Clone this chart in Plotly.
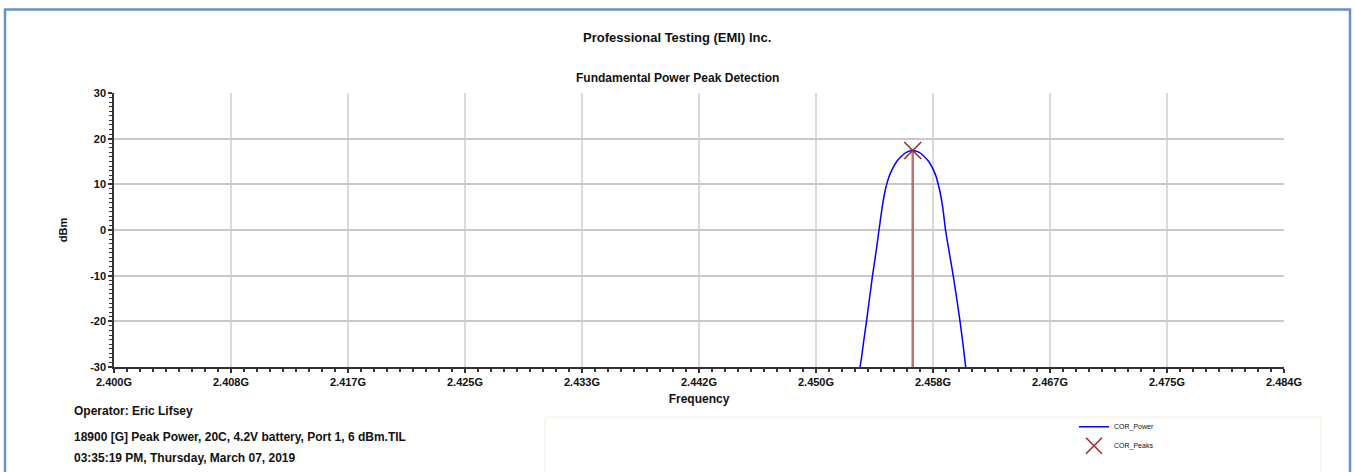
import plotly.graph_objects as go

# ---- data (GHz, dBm) ----
power_freq_ghz = [2.453559, 2.453667, 2.453796, 2.454026, 2.454241, 2.454457,
                  2.454701, 2.454924, 2.455153, 2.455369, 2.455476, 2.455620,
                  2.455907, 2.456194, 2.456481, 2.456876, 2.457343,
                  2.457810, 2.458205, 2.458492, 2.458779, 2.459045, 2.459174,
                  2.459281, 2.459497, 2.459698, 2.459971, 2.460251, 2.460502,
                  2.460740, 2.460954, 2.461069, 2.461148]
power_dbm = [-30.0, -28.0, -25.0, -20.0, -15.0, -10.0,
             -5.0, 0.0, 5.0, 8.7, 10.0, 11.5,
             13.5, 15.0, 16.0, 17.0, 17.4,
             17.0, 16.0, 15.0, 13.5, 11.5, 10.0,
             8.7, 5.0, 0.0, -5.0, -10.0, -15.0,
             -20.0, -25.0, -28.0, -30.0]

peak_freq_ghz = [2.457343]
peak_dbm = [17.4]

x_tick_labels = ["2.400G", "2.408G", "2.417G", "2.425G", "2.433G", "2.442G",
                 "2.450G", "2.458G", "2.467G", "2.475G", "2.484G"]
x_start, x_step = 2.400, 0.0084
x_tick_vals = [x_start + i * x_step for i in range(len(x_tick_labels))]
y_tick_vals = [-30, -20, -10, 0, 10, 20, 30]

title_text = "Professional Testing (EMI) Inc."
subtitle_text = "Fundamental Power Peak Detection"
footer_lines = ["Operator: Eric Lifsey",
                "18900 [G] Peak Power, 20C, 4.2V battery, Port 1, 6 dBm.TIL",
                "03:35:19 PM, Thursday, March 07, 2019"]

# ---- layout geometry (window pixels) ----
W, H = 1354, 472
L, R, T, B = 114, 1284, 93, 372
pw, ph = R - L, B - T


def px(xp):
    return (xp - L) / pw


def py(yp):
    return (B - yp) / ph


FONT = "Liberation Sans, Arial, sans-serif"
AX = "#333333"

fig = go.Figure()

fig.add_trace(go.Scatter(
    x=power_freq_ghz, y=power_dbm, mode="lines", name="COR_Power",
    line=dict(color="#0000ff", width=1.5, shape="spline", smoothing=0.5)))

# stem from the axis to the peak
fig.add_trace(go.Scatter(
    x=[peak_freq_ghz[0], peak_freq_ghz[0]], y=[y_tick_vals[0], peak_dbm[0]],
    mode="lines", showlegend=False, hoverinfo="skip",
    line=dict(color="rgba(170,90,85,0.85)", width=2.5)))

fig.add_trace(go.Scatter(
    x=peak_freq_ghz, y=peak_dbm, mode="markers", name="COR_Peaks",
    marker=dict(symbol="x-thin", size=17, color="#992a2a",
                line=dict(color="#992a2a", width=1.5))))

axis_common = dict(showline=True, linecolor=AX, linewidth=1.5,
                   zeroline=False, tickfont=dict(family=FONT, size=11, color="#111111"))

fig.update_layout(
    width=W, height=H,
    margin=dict(l=L, r=W - R, t=T, b=H - B, pad=0),
    paper_bgcolor="white", plot_bgcolor="white",
    font=dict(family=FONT, color="#111111"),
    showlegend=True,
    legend=dict(x=px(1074), y=py(418), xanchor="left", yanchor="top",
                bgcolor="rgba(0,0,0,0)", font=dict(family="Liberation Sans Narrow, " + FONT, size=7),
                tracegroupgap=0, itemwidth=30),
    xaxis=dict(range=[x_tick_vals[0], x_tick_vals[-1]], tickmode="array",
               tickvals=x_tick_vals, ticktext=["<b>%s</b>" % t for t in x_tick_labels],
               ticks="outside", ticklen=4, tickwidth=1.5, tickcolor=AX,
               showgrid=True, gridcolor="#dadada", gridwidth=2,
               minor=dict(dtick=x_step / 9, tick0=x_start, ticks="outside", ticklen=3,
                          tickwidth=1.5, tickcolor=AX, showgrid=False),
               title=dict(text="<b>Frequency</b>", font=dict(family=FONT, size=12), standoff=8),
               **axis_common),
    yaxis=dict(range=[y_tick_vals[0], y_tick_vals[-1]], tickmode="array",
               tickvals=y_tick_vals, ticktext=["<b>%d</b>" % v for v in y_tick_vals],
               ticks="outside", ticklen=4, tickwidth=1.5, tickcolor=AX,
               showgrid=True, gridcolor="#c8c8c8", gridwidth=1.5,
               minor=dict(dtick=1, tick0=0, ticks="outside", ticklen=3,
                          tickwidth=1, tickcolor=AX, showgrid=False),
               title=dict(text="<b>dBm</b>", font=dict(family=FONT, size=11), standoff=20),
               **axis_common),
    xaxis2=dict(overlaying="x", matches="x", side="bottom", anchor="y",
                tickmode="array", tickvals=x_tick_vals, showticklabels=False,
                ticks="inside", ticklen=4, tickwidth=1.5, tickcolor=AX,
                showgrid=False, zeroline=False, showline=False,
                minor=dict(dtick=x_step / 9, tick0=x_start, ticks="inside", ticklen=3,
                           tickwidth=1.5, tickcolor=AX)),
    yaxis2=dict(overlaying="y", matches="y", side="left", anchor="x",
                tickmode="array", tickvals=y_tick_vals, showticklabels=False,
                ticks="inside", ticklen=4, tickwidth=1.5, tickcolor=AX,
                showgrid=False, zeroline=False, showline=False,
                minor=dict(dtick=1, tick0=0, ticks="inside", ticklen=3,
                           tickwidth=1, tickcolor=AX)),
)

annotations = [
    dict(text="<b>%s</b>" % title_text, x=px(677), y=py(36), xref="paper", yref="paper",
         showarrow=False, xanchor="center", yanchor="middle",
         font=dict(family=FONT, size=13, color="#111111")),
    dict(text="<b>%s</b>" % subtitle_text, x=px(677), y=py(78), xref="paper", yref="paper",
         showarrow=False, xanchor="center", yanchor="middle",
         font=dict(family=FONT, size=12, color="#111111")),
]
for line_text, yp in zip(footer_lines, [417, 443, 465]):
    annotations.append(dict(text="<b>%s</b>" % line_text, x=px(72), y=py(yp),
                            xref="paper", yref="paper", showarrow=False,
                            xanchor="left", yanchor="middle",
                            font=dict(family=FONT, size=12, color="#111111")))
fig.update_layout(annotations=annotations)

fig.update_layout(shapes=[
    # outer frame
    dict(type="rect", xref="paper", yref="paper", x0=px(5), x1=px(1350), y0=py(490), y1=py(8),
         line=dict(color="#6a90c9", width=2.5), fillcolor="rgba(0,0,0,0)", layer="below"),
    # legend panel
    dict(type="rect", xref="paper", yref="paper", x0=px(545), x1=px(1321), y0=py(480), y1=py(423),
         line=dict(color="#f6eedc", width=1), fillcolor="rgba(0,0,0,0)", layer="below"),
])

fig.write_html("out.html", config={"displayModeBar": False},
               post_script="document.body.style.margin='0';")
